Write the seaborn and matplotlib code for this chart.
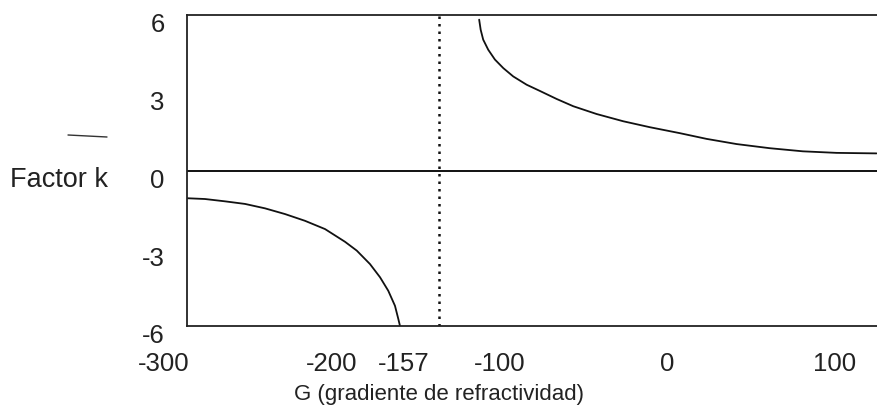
import numpy as np
import pandas as pd
import matplotlib
matplotlib.use("Agg")
import matplotlib.pyplot as plt
import matplotlib.transforms as mtransforms
from matplotlib.lines import Line2D
import seaborn as sns

# ---- data ----
g_neg = [-300.0, -289.3, -277.3, -265.4, -253.5, -241.6, -229.7, -217.7, -205.8,
         -198.8, -190.9, -184.9, -180.0, -176.0, -174.0, -173.0]
k_neg = [-1.07, -1.10, -1.19, -1.29, -1.46, -1.68, -1.94, -2.26, -2.75,
         -3.09, -3.61, -4.12, -4.64, -5.22, -5.73, -6.00]

g_pos = [-125.8, -124.9, -123.4, -120.4, -116.4, -111.4, -105.5, -97.5, -89.6,
         -79.6, -69.7, -55.8, -39.9, -24.0, -6.1, 9.8, 27.7, 47.5, 67.2, 87.3, 111.1]
k_pos = [5.82, 5.43, 5.05, 4.66, 4.28, 3.95, 3.63, 3.31, 3.07,
         2.76, 2.48, 2.18, 1.90, 1.67, 1.44, 1.22, 1.02, 0.86, 0.74, 0.68, 0.66]

asymptote_g = -150
x_ticks = [-300, -200, -157, -100, 0, 100]
x_ticklabels = ["-300", "-200", "-157", "-100", "0", "100"]
y_ticks = [-6, -3, 0, 3, 6]
y_ticklabels = ["-6", "-3", "0", "3", "6"]
x_label = "G (gradiente de refractividad)"
y_label = "Factor k"

df_neg = pd.DataFrame({"G": g_neg, "k": k_neg})
df_pos = pd.DataFrame({"G": g_pos, "k": k_pos})

sns.set_theme(style="white")
plt.rcParams["font.family"] = ["Liberation Sans", "DejaVu Sans"]

W, H = 878, 414
fig = plt.figure(figsize=(W / 100, H / 100), dpi=100)
ax = fig.add_axes([187 / W, 1 - 327 / H, (W - 187) / W, (327 - 16) / H])

line_col = "#111111"
sns.lineplot(data=df_neg, x="G", y="k", ax=ax, color=line_col, lw=1.3, sort=False)
sns.lineplot(data=df_pos, x="G", y="k", ax=ax, color=line_col, lw=1.3, sort=False)
ax.axhline(0, color=line_col, lw=1.4)
ax.axvline(asymptote_g, color=line_col, lw=1.8, ls=(0, (1, 2.0)))

ax.set_xlim(-300, 112)
ax.set_ylim(-6, 6)

for side in ["top", "bottom", "left"]:
    ax.spines[side].set_visible(True)
    ax.spines[side].set_color("#222222")
    ax.spines[side].set_linewidth(1.3)
ax.spines["right"].set_visible(False)

ax.set_xticks(x_ticks)
ax.set_xticklabels(x_ticklabels)
ax.set_yticks(y_ticks)
ax.set_yticklabels(y_ticklabels)
ax.tick_params(axis="x", length=0, pad=18, labelsize=18.5, colors="#222222")
ax.tick_params(axis="y", length=0, pad=16, labelsize=18.5, colors="#222222")

xoff = mtransforms.ScaledTranslation(-23 / 100, 0, fig.dpi_scale_trans)
for lab in ax.get_xticklabels():
    lab.set_transform(lab.get_transform() + xoff)
yoff = mtransforms.ScaledTranslation(0, -7 / 100, fig.dpi_scale_trans)
for lab in ax.get_yticklabels():
    lab.set_transform(lab.get_transform() + yoff)

ax.set_xlabel(x_label, fontsize=16, color="#222222")
ax.xaxis.label.set_va("center")
ax.xaxis.set_label_coords((439 - 187) / (W - 187), (327 - 395) / (327 - 16))
ax.set_ylabel(y_label, fontsize=19.5, color="#222222", rotation=0)
ax.yaxis.label.set_va("center")
ax.yaxis.label.set_ha("center")
ax.yaxis.set_label_coords((59 - 187) / (W - 187), (327 - 180) / (327 - 16))

# small scan mark above the y label
fig.add_artist(Line2D([68 / W, 107 / W], [1 - 136 / H, 1 - 138 / H],
                      color="#333333", lw=1.0, transform=fig.transFigure))

ax.grid(False)
fig.savefig("out.png", dpi=100)
